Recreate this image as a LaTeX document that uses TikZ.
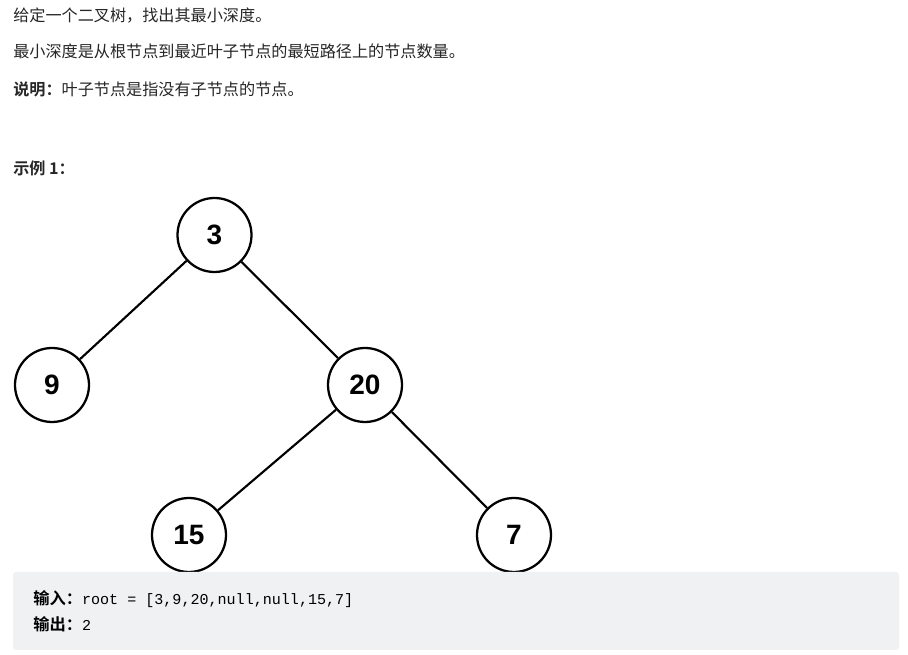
\documentclass[tikz,border=0pt]{standalone}
\usepackage{fontspec}
\usepackage{xcolor}
\usepackage{tikz}
\usetikzlibrary{positioning}
\newfontfamily\cjk{Noto Sans CJK SC}[BoldFont={Noto Sans CJK SC Bold}]
\newfontfamily\numfont{Liberation Sans}
\newfontfamily\codefont{Liberation Mono}
\definecolor{txtgray}{RGB}{38,38,38}
\definecolor{codebg}{RGB}{240,241,243}
\tikzset{
  tnode/.style={circle, draw=black, line width=1.7pt, minimum size=55.5pt, inner sep=0pt,
    font=\numfont\bfseries\fontsize{21}{25}\selectfont},
  link/.style={draw=black, line width=1.6pt},
  para/.style={anchor=west, inner sep=0pt, text=txtgray, font=\cjk\fontsize{12.1}{14}\selectfont},
  codeline/.style={anchor=west, inner sep=0pt, text=black, font=\cjk\fontsize{12.2}{14}\selectfont},
}

\begin{document}
\begin{tikzpicture}[x=0.75pt, y=-0.75pt]
  \useasboundingbox (0,0) rectangle (908,655);
  \fill[white] (0,0) rectangle (908,655);

  % problem text
  \node[para] (p1) at (13,16) {给定一个二叉树，找出其最小深度。};
  \node[para] (p2) at (13,51) {最小深度是从根节点到最近叶子节点的最短路径上的节点数量。};
  \node[para] (p3) at (13,89) {\textbf{说明：}叶子节点是指没有子节点的节点。};
  \node[para] (ex) at (13,168) {\textbf{示例 1：}};

  % tree
  \node[tnode] (n3)  at (214.5,235) {3};
  \node[tnode] (n9)  at (52,385)    {9};
  \node[tnode] (n20) at (365,385)   {20};
  \node[tnode] (n15) at (189,535)   {15};
  \node[tnode] (n7)  at (514,535)   {7};
  \draw[link] (n3) -- (n9);
  \draw[link] (n3) -- (n20);
  \draw[link] (n20) -- (n15);
  \draw[link] (n20) -- (n7);

  % input / output box
  \fill[codebg, rounded corners=2.25pt] (13,572) rectangle (899,650);
  \node[codeline] (in)  at (33,599) {\textbf{输入：}{\codefont\fontsize{11.3}{14}\selectfont root = [3,9,20,null,null,15,7]}};
  \node[codeline] (out) at (33,624) {\textbf{输出：}{\codefont\fontsize{11.3}{14}\selectfont 2}};
\end{tikzpicture}
\end{document}
